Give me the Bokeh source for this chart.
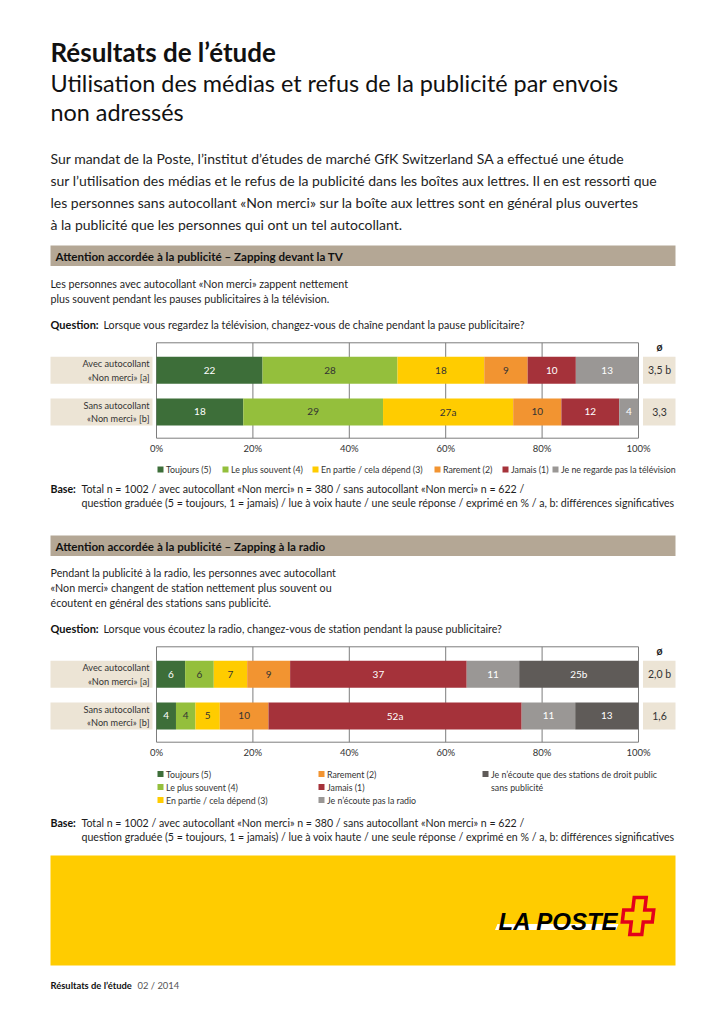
from bokeh.plotting import figure
from bokeh.layouts import column
from bokeh.models import Range1d, LinearAxis, FixedTicker, PrintfTickFormatter, ColumnDataSource
from bokeh.core.properties import value
from bokeh.embed import file_html
from bokeh.resources import INLINE

# ---------------- data ----------------
GROUPS = ["Avec autocollant\n«Non merci» [a]", "Sans autocollant\n«Non merci» [b]"]
TV_CATEGORIES = ["Toujours (5)", "Le plus souvent (4)", "En partie / cela dépend (3)",
                 "Rarement (2)", "Jamais (1)", "Je ne regarde pas la télévision"]
TV_AVEC = [22, 28, 18, 9, 10, 13]
TV_SANS = [18, 29, 27, 10, 12, 4]
TV_AVEC_LABELS = ["22", "28", "18", "9", "10", "13"]
TV_SANS_LABELS = ["18", "29", "27a", "10", "12", "4"]
TV_MEANS = ["3,5 b", "3,3"]

RADIO_CATEGORIES = ["Toujours (5)", "Le plus souvent (4)", "En partie / cela dépend (3)",
                    "Rarement (2)", "Jamais (1)", "Je n’écoute pas la radio",
                    "Je n’écoute que des stations de droit public\nsans publicité"]
RADIO_AVEC = [6, 6, 7, 9, 37, 11, 25]
RADIO_SANS = [4, 4, 5, 10, 52, 11, 13]
RADIO_AVEC_LABELS = ["6", "6", "7", "9", "37", "11", "25b"]
RADIO_SANS_LABELS = ["4", "4", "5", "10", "52a", "11", "13"]
RADIO_MEANS = ["2,0 b", "1,6"]

AXIS_TICKS = [0, 20, 40, 60, 80, 100]

# ---------------- styles ----------------
FONT = "Lato"
TXT = "#1e1e1e"
BEIGE = "#ece4d5"
SECTION = "#b4a795"
YELLOW = "#ffcc00"
COLORS = ["#3d6e39", "#94bf3c", "#ffcc00", "#f29431", "#a5323a", "#9a9795", "#5f5b58"]
LABEL_COLORS = ["white", "#333333", "#333333", "#333333", "white", "white", "white"]

W = 725
PAGE_L, PAGE_R = 0, 725
X0, X100 = 156.0, 638.0
PPU = (X100 - X0) / 100.0
ROW_Y = [1, 0]


def px_to_x(px):
    return (px - X0) / PPU


def text_fig(top, bottom):
    return figure(width=W, height=bottom - top, x_range=Range1d(PAGE_L, PAGE_R),
                  y_range=Range1d(bottom, top), min_border=0, toolbar_location=None,
                  output_backend="svg", x_axis_type=None, y_axis_type=None,
                  outline_line_color=None)


def txt(p, x, y, s, size, bold=False, color=TXT, align="left", baseline="middle",
        font=FONT, italic=False, line_height=1.2):
    style = "bold" if bold else "normal"
    if italic:
        style = "bold italic" if bold else "italic"
    p.text(x=[x], y=[y], text=[s], text_font=value(font), text_font_size=f"{size}px",
           text_font_style=style, text_color=color, text_align=align,
           text_baseline=baseline, text_line_height=line_height)


def make_chart(rows_vals, rows_labels, means):
    fh = 98
    ppy = 41.6
    c_top = 28.8

    def yv(rel):
        return ROW_Y[0] + (c_top - rel) / ppy

    p = figure(frame_width=W, frame_height=fh,
               x_range=Range1d(px_to_x(PAGE_L), px_to_x(PAGE_R)),
               y_range=Range1d(yv(fh), yv(0)),
               x_axis_type=None, y_axis_type=None, toolbar_location=None,
               output_backend="svg", min_border_left=0, min_border_right=0,
               min_border_top=0, min_border_bottom=20, outline_line_color=None)

    ax = LinearAxis(ticker=FixedTicker(ticks=AXIS_TICKS),
                    formatter=PrintfTickFormatter(format="%d%%"),
                    axis_line_color=None, major_tick_line_color=None,
                    minor_tick_line_color=None, major_tick_out=0, major_tick_in=0,
                    minor_tick_out=0, minor_tick_in=0, major_label_standoff=3,
                    major_label_text_font=FONT, major_label_text_font_size="9.5px",
                    major_label_text_color="#333333")
    p.add_layout(ax, "below")

    top_y, bot_y = yv(1.3), yv(96.7)
    p.segment(x0=AXIS_TICKS, x1=AXIS_TICKS, y0=[bot_y] * len(AXIS_TICKS),
              y1=[top_y] * len(AXIS_TICKS), line_color="#7d7d7d", line_width=1)
    p.segment(x0=[AXIS_TICKS[0]] * 2, x1=[AXIS_TICKS[-1]] * 2, y0=[top_y, bot_y],
              y1=[top_y, bot_y], line_color="#7d7d7d", line_width=1)

    bar_h = 27.0 / ppy
    d = dict(left=[], right=[], mid=[], y=[], color=[], label=[], lcolor=[])
    for yy, vals, labs in zip(ROW_Y, rows_vals, rows_labels):
        total = float(sum(vals))
        acc = 0.0
        for i, (v, lab) in enumerate(zip(vals, labs)):
            l = acc / total * 100
            acc += v
            r = acc / total * 100
            d["left"].append(l)
            d["right"].append(r)
            d["mid"].append((l + r) / 2)
            d["y"].append(yy)
            d["color"].append(COLORS[i])
            d["label"].append(lab)
            d["lcolor"].append(LABEL_COLORS[i])
    src = ColumnDataSource(d)
    p.hbar(y="y", left="left", right="right", height=bar_h, fill_color="color",
           line_color=None, source=src)
    p.text(x="mid", y="y", text="label", text_color="lcolor", text_align="center",
           text_baseline="middle", text_font=value(FONT), text_font_size="10px",
           source=src)

    p.quad(left=[px_to_x(50)] * 2, right=[px_to_x(152)] * 2,
           bottom=[y - bar_h / 2 for y in ROW_Y], top=[y + bar_h / 2 for y in ROW_Y],
           fill_color=BEIGE, line_color=None)
    p.text(x=[px_to_x(149)] * 2, y=ROW_Y, text=GROUPS, text_align="right",
           text_baseline="middle", text_font=value(FONT), text_font_size="9.2px",
           text_color="#333333", text_line_height=1.25)

    p.quad(left=[px_to_x(642.5)] * 2, right=[px_to_x(675)] * 2,
           bottom=[y - bar_h / 2 for y in ROW_Y], top=[y + bar_h / 2 for y in ROW_Y],
           fill_color=BEIGE, line_color=None)
    p.text(x=[px_to_x(659)] * 2, y=ROW_Y, text=means, text_align="center",
           text_baseline="middle", text_font=value(FONT), text_font_size="10.5px",
           text_color="#333333")
    p.text(x=[px_to_x(659)], y=[yv(5)], text=["ø"], text_align="center",
           text_baseline="middle", text_font=value(FONT), text_font_size="10.5px",
           text_font_style="bold", text_color="#222222")
    return p


# ---------------- header ----------------
head = text_fig(0, 341)
txt(head, 50, 51, "Résultats de l’étude", 26, bold=True, color="#111111", baseline="alphabetic")
txt(head, 50, 82.5, "Utilisation des médias et refus de la publicité par envois", 23.4, color="#111111", baseline="alphabetic")
txt(head, 50, 111.5, "non adressés", 23.4, color="#111111", baseline="alphabetic")
para = ["Sur mandat de la Poste, l’institut d’études de marché GfK Switzerland SA a effectué une étude",
        "sur l’utilisation des médias et le refus de la publicité dans les boîtes aux lettres. Il en est ressorti que",
        "les personnes sans autocollant «Non merci» sur la boîte aux lettres sont en général plus ouvertes",
        "à la publicité que les personnes qui ont un tel autocollant."]
for i, line in enumerate(para):
    txt(head, 50, 158 + 22 * i, line, 14.0)
head.quad(left=[50], right=[675], top=[245], bottom=[265.5], fill_color=SECTION, line_color=None)
txt(head, 55, 255.5, "Attention accordée à la publicité – Zapping devant la TV", 11.6, bold=True, color="#111111")
txt(head, 50, 283, "Les personnes avec autocollant «Non merci» zappent nettement", 10.7)
txt(head, 50, 298, "plus souvent pendant les pauses publicitaires à la télévision.", 10.7)
txt(head, 50, 324, "Question:", 11, bold=True, color="#111111")
txt(head, 103, 324, "Lorsque vous regardez la télévision, changez-vous de chaîne pendant la pause publicitaire?", 10.7)

# ---------------- chart 1 ----------------
chart1 = make_chart([TV_AVEC, TV_SANS], [TV_AVEC_LABELS, TV_SANS_LABELS], TV_MEANS)

# ---------------- middle ----------------
mid = text_fig(459, 645)
leg1_x = [157, 222, 312, 434, 502, 552]
for i, (lx, cat) in enumerate(zip(leg1_x, TV_CATEGORIES)):
    mid.quad(left=[lx], right=[lx + 6], top=[466], bottom=[472], fill_color=COLORS[i], line_color=None)
    txt(mid, lx + 8.5, 469, cat, 8.8, color="#333333")
txt(mid, 50, 488, "Base:", 10.6, bold=True, color="#111111")
txt(mid, 81, 488, "Total n = 1002 / avec autocollant «Non merci» n = 380 / sans autocollant «Non merci» n = 622 /", 10.6)
txt(mid, 81, 502, "question graduée (5 = toujours, 1 = jamais) / lue à voix haute / une seule réponse / exprimé en % / a, b: différences significatives", 10.6)
mid.quad(left=[50], right=[675], top=[535], bottom=[555.5], fill_color=SECTION, line_color=None)
txt(mid, 55, 545.5, "Attention accordée à la publicité – Zapping à la radio", 11.6, bold=True, color="#111111")
txt(mid, 50, 572, "Pendant la publicité à la radio, les personnes avec autocollant", 10.7)
txt(mid, 50, 587, "«Non merci» changent de station nettement plus souvent ou", 10.7)
txt(mid, 50, 602, "écoutent en général des stations sans publicité.", 10.7)
txt(mid, 50, 628, "Question:", 11, bold=True, color="#111111")
txt(mid, 103, 628, "Lorsque vous écoutez la radio, changez-vous de station pendant la pause publicitaire?", 10.7)

# ---------------- chart 2 ----------------
chart2 = make_chart([RADIO_AVEC, RADIO_SANS], [RADIO_AVEC_LABELS, RADIO_SANS_LABELS], RADIO_MEANS)

# ---------------- bottom ----------------
bot = text_fig(763, 1024)
leg2_cols = [157, 318, 482]
leg2_rows = [773.5, 786.5, 799.5]
for i, cat in enumerate(RADIO_CATEGORIES):
    cx = leg2_cols[i // 3]
    cy = leg2_rows[i % 3]
    bot.quad(left=[cx], right=[cx + 6], top=[cy - 3], bottom=[cy + 3], fill_color=COLORS[i], line_color=None)
    bot.text(x=[cx + 8.5], y=[cy - 5.5], text=[cat], text_font=value(FONT), text_font_size="8.8px",
             text_color="#333333", text_align="left", text_baseline="top", text_line_height=1.2)
txt(bot, 50, 822, "Base:", 10.6, bold=True, color="#111111")
txt(bot, 81, 822, "Total n = 1002 / avec autocollant «Non merci» n = 380 / sans autocollant «Non merci» n = 622 /", 10.6)
txt(bot, 81, 836, "question graduée (5 = toujours, 1 =  jamais) / lue à voix haute / une seule réponse / exprimé en % / a, b: différences significatives", 10.6)
bot.quad(left=[50], right=[675], top=[855], bottom=[965], fill_color=YELLOW, line_color=None)
# logo
bot.patch(x=[497, 618, 615.5, 494.5], y=[923.5, 923.5, 929.5, 929.5], fill_color="white", line_color=None)
txt(bot, 498, 921, "LA POSTE", 24, bold=True, italic=True, color="black", baseline="alphabetic",
    font="Liberation Sans")
cx, cy, a, L, Lx, sk = 637.5, 915.5, 6.0, 18.5, 15.0, 0.12
pts = [(cx - a, cy - L), (cx + a, cy - L), (cx + a, cy - a), (cx + Lx, cy - a), (cx + Lx, cy + a),
       (cx + a, cy + a), (cx + a, cy + L), (cx - a, cy + L), (cx - a, cy + a), (cx - Lx, cy + a),
       (cx - Lx, cy - a), (cx - a, cy - a)]
bot.patch(x=[px + (cy - py) * sk for px, py in pts], y=[py for px, py in pts],
          fill_color=None, line_color="#e3001b", line_width=3.5, line_join="miter")
txt(bot, 50, 985, "Résultats de l’étude", 9.4, bold=True, color="#111111")
txt(bot, 137, 985, "02 / 2014", 9.4, color="#555555")

layout = column(head, chart1, mid, chart2, bot, spacing=0)
open("out.html", "w").write(file_html(layout, INLINE))
